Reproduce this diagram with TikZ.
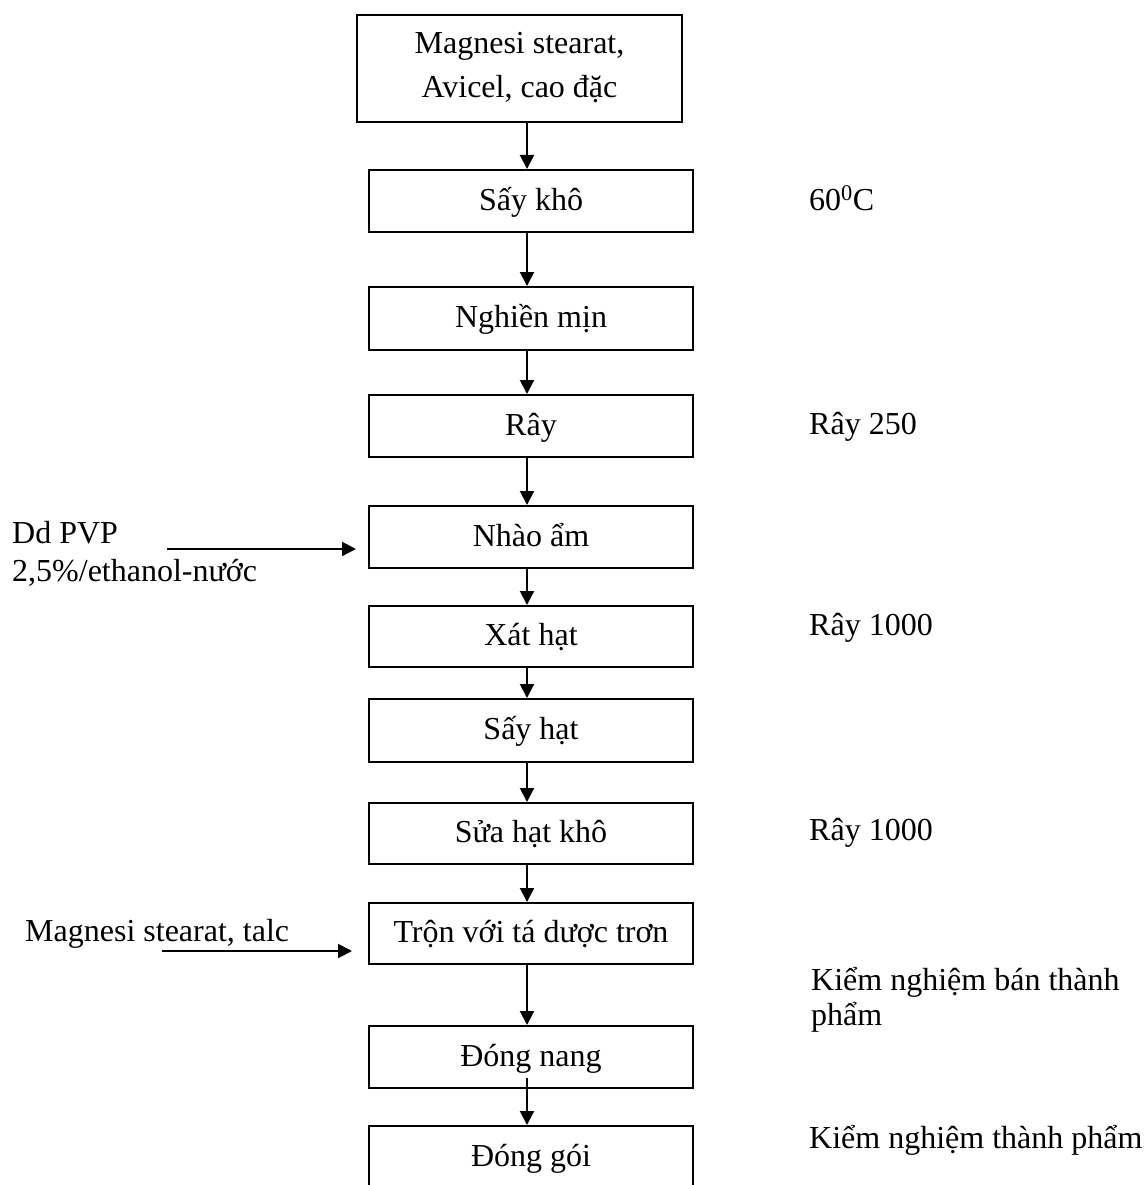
\documentclass[tikz,border=0pt]{standalone}
\usepackage{fontspec}
\setmainfont{Liberation Serif}
\usetikzlibrary{arrows.meta}
\tikzset{
  stepbox/.style={draw, line width=2pt, minimum width=324pt, minimum height=62pt,
    inner sep=0pt, font=\fontsize{32}{38}\selectfont, text height=22pt, text depth=4pt},
  lbl/.style={inner sep=0pt, font=\fontsize{32}{38}\selectfont, anchor=base west, align=left},
  arr/.style={line width=2pt, -{Triangle[width=14pt,length=14pt]}},
}
\begin{document}
\begin{tikzpicture}[x=1pt,y=-1pt]
\useasboundingbox (0,0) rectangle (1147,1185);
\clip (0,0) rectangle (1147,1185);
\coordinate (cx) at (527,0);
\node[stepbox, minimum width=325pt, minimum height=107pt, text height=, text depth=, align=center,
  font=\fontsize{32}{44}\selectfont] (top) at (519.5,68.5) {Magnesi stearat,\\Avicel, cao đặc\vphantom{g}};
\node[stepbox, minimum height=62pt] (skho) at (531,201) {Sấy khô};
\node[stepbox, minimum height=63pt] (nghien) at (531,318.5) {Nghiền mịn};
\node[stepbox] (ray) at (531,426) {Rây};
\node[stepbox] (nhao) at (531,537) {Nhào ẩm};
\node[stepbox, minimum height=61pt] (xat) at (531,636.5) {Xát hạt};
\node[stepbox, minimum height=63pt] (shat) at (531,730.5) {Sấy hạt};
\node[stepbox, minimum height=61pt] (sua) at (531,833.5) {Sửa hạt khô};
\node[stepbox, minimum height=61pt] (tron) at (531,933.5) {Trộn với tá dược trơn};
\node[stepbox] (nang) at (531,1057) {Đóng nang};
\node[stepbox] (goi) at (531,1157) {Đóng gói};

\draw[arr] (top.south -| cx) -- (skho.north -| cx);
\draw[arr] (skho.south -| cx) -- (nghien.north -| cx);
\draw[arr] (nghien.south -| cx) -- (ray.north -| cx);
\draw[arr] (ray.south -| cx) -- (nhao.north -| cx);
\draw[arr] (nhao.south -| cx) -- (xat.north -| cx);
\draw[arr] (xat.south -| cx) -- (shat.north -| cx);
\draw[arr] (shat.south -| cx) -- (sua.north -| cx);
\draw[arr] (sua.south -| cx) -- (tron.north -| cx);
\draw[arr] (tron.south -| cx) -- (nang.north -| cx);
\coordinate (nangstart) at (527,1078);
\draw[arr] (nangstart) -- (goi.north -| cx);

\node[lbl] (t60) at (809,210) {60\textsuperscript{0}C};
\node[lbl] (r250) at (809,434) {Rây 250};
\node[lbl] (r1000a) at (809,635) {Rây 1000};
\node[lbl] (r1000b) at (809,840) {Rây 1000};
\node[lbl, font=\fontsize{32}{35}\selectfont] (kbtp) at (811,1025) {Kiểm nghiệm bán thành\\phẩm};
\node[lbl] (ktp) at (809,1148) {Kiểm nghiệm thành phẩm};

\node[lbl] (pvp) at (12,581) {Dd PVP\\2,5\%/ethanol-nước};
\node[lbl] (mgt) at (25,941) {Magnesi stearat, talc};
\coordinate (pvpstart) at (167,549);
\coordinate (mgtstart) at (162,951);
\draw[arr, shorten >=12pt] (pvpstart) -- (pvpstart -| nhao.west);
\draw[arr, shorten >=16pt] (mgtstart) -- (mgtstart -| tron.west);
\end{tikzpicture}
\end{document}
